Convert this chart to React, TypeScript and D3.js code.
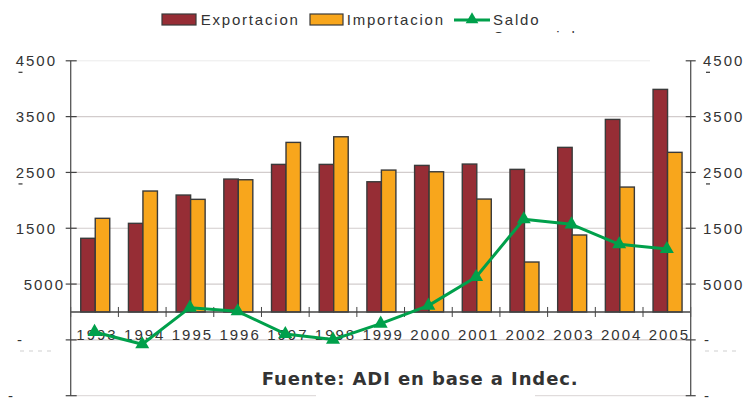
import React from "react";
import * as d3 from "d3";

const years = ["1993","1994","1995","1996","1997","1998","1999","2000","2001","2002","2003","2004","2005"];
const exportacion = [1320, 1588, 2095, 2381, 2644, 2644, 2333, 2626, 2650, 2555, 2949, 3450, 3988];
const importacion = [1678, 2167, 2018, 2369, 3038, 3139, 2542, 2512, 2023, 895, 1379, 2238, 2860];
const saldo = [-358, -579, 77, 12, -394, -495, -209, 114, 627, 1660, 1570, 1212, 1128];
const tickValues = [4500, 3500, 2500, 1500, 500, -500, -1500];
const tickLabels = ["4500", "3500", "2500", "1500", "5000", "-", "-"];
const seriesNames = ["Exportacion", "Importacion", "Saldo"];
const sourceNote = "Fuente: ADI en base a Indec.";

const W = 748, H = 403;
const X0 = 70.7, X1 = 690.7;
const COL_EXP = "#962d35";
const COL_IMP = "#f8a61c";
const COL_SAL = "#00a04b";
const TXT = "#333333";
const FONT = "'Liberation Sans', Arial, sans-serif";

export default function App() {
  const x = d3.scaleBand<string>().domain(years).range([X0, X1]).paddingInner(0).paddingOuter(0);
  const y = d3.scaleLinear().domain([-1500, 4500]).range([395.7, 60.8]);
  const sub = d3.scaleBand<string>().domain(["Exportacion", "Importacion"]).range([0, 29]);
  const bw = x.bandwidth();
  const cx = (yr: string) => (x(yr) as number) + bw / 2;
  const y0 = y(0);

  const line = d3.line<number>().x((_, i) => cx(years[i])).y(d => y(d));
  const tri = d3.symbol().type(d3.symbolTriangle).size(85)() as string;
  const triSmall = d3.symbol().type(d3.symbolTriangle).size(70)() as string;

  const barsData = [
    { name: "Exportacion", values: exportacion, fill: COL_EXP },
    { name: "Importacion", values: importacion, fill: COL_IMP },
  ];

  const boundaries = years.map(yr => x(yr) as number).concat([X1]);

  return (
    <svg width={W} height={H} style={{ position: "absolute", left: 0, top: 0, background: "#fff" }}
      fontFamily={FONT}>
      <defs>
        <clipPath id="legclip"><rect x={480} y={0} width={200} height={33} /></clipPath>
      </defs>

      {/* gridlines */}
      {tickValues.map(v => {
        if (v === 4500) return <line key={v} x1={X0} x2={650} y1={y(v)} y2={y(v)} stroke="#ececec" strokeWidth={1} />;
        if (v === -1500) return (
          <g key={v}>
            <line x1={X0} x2={316} y1={y(v)} y2={y(v)} stroke="#d9d4d4" strokeWidth={1} />
            <line x1={535} x2={X1} y1={y(v)} y2={y(v)} stroke="#d9d4d4" strokeWidth={1} />
          </g>
        );
        return <line key={v} x1={X0} x2={X1} y1={y(v)} y2={y(v)} stroke="#d2cccc" strokeWidth={1.2} />;
      })}

      {/* bars */}
      {barsData.map(s => (
        <g key={s.name}>
          {s.values.map((v, i) => {
            const bx = cx(years[i]) - 14.5 + 0.7 + (sub(s.name) as number);
            return <rect key={i} x={bx} y={y(v)} width={sub.bandwidth()} height={y0 - y(v)}
              fill={s.fill} stroke="#3a3a3a" strokeWidth={1.4} />;
          })}
        </g>
      ))}

      {/* x axis */}
      <line x1={X0} x2={X1} y1={y0} y2={y0} stroke="#444" strokeWidth={1.3} />
      {boundaries.map((bx, i) => (
        <line key={i} x1={bx} x2={bx} y1={y0 - 5} y2={y0 + 5} stroke="#444" strokeWidth={1} />
      ))}

      {/* left / right axes */}
      <line x1={X0} x2={X0} y1={y(4500)} y2={y(-1500)} stroke="#555" strokeWidth={1.3} />
      <line x1={X1} x2={X1} y1={y(4500)} y2={y(-1500)} stroke="#555" strokeWidth={1.3} />
      {tickValues.map(v => (
        <g key={v}>
          <line x1={X0 - 5} x2={X0 + 6} y1={y(v)} y2={y(v)} stroke="#444" strokeWidth={1.2} />
          <line x1={X1 - 5} x2={X1 + 5} y1={y(v)} y2={y(v)} stroke="#444" strokeWidth={1.2} />
        </g>
      ))}

      {/* tick labels */}
      {tickValues.map((v, i) => {
        const lab = tickLabels[i];
        const isDash = lab === "-";
        const lx = isDash ? (v === -1500 ? 15 : 24) : (lab === "5000" ? 65 : 57);
        return (
          <g key={v} fontSize={15} fill={TXT} letterSpacing={2}>
            <text x={lx} y={y(v) + 5.5} textAnchor="end">{lab}</text>
            <text x={isDash ? 704 : 703} y={y(v) + 5.5} textAnchor="start">{lab}</text>
          </g>
        );
      })}
      {/* small artefact dashes under upper labels */}
      {[4500, 2500].map(v => (
        <g key={v} stroke={TXT} strokeWidth={1.2}>
          <line x1={18.5} x2={22.5} y1={y(v) + 11.5} y2={y(v) + 11.5} />
          <line x1={706} x2={710} y1={y(v) + 11.5} y2={y(v) + 11.5} />
        </g>
      ))}
      <line x1={20} x2={56} y1={351} y2={351} stroke="#cfcfcf" strokeWidth={1} strokeDasharray="4,5" />
      <line x1={705} x2={741} y1={351} y2={351} stroke="#cfcfcf" strokeWidth={1} strokeDasharray="4,5" />

      {/* year labels */}
      {years.map(yr => (
        <text key={yr} x={cx(yr) + 2.5} y={340} textAnchor="middle" fontSize={15} fill={TXT} letterSpacing={2}>{yr}</text>
      ))}

      {/* saldo line */}
      <path d={line(saldo) as string} fill="none" stroke={COL_SAL} strokeWidth={3} strokeLinejoin="round" />
      {saldo.map((v, i) => (
        <path key={i} d={tri} transform={`translate(${cx(years[i])},${y(v)})`} fill={COL_SAL} />
      ))}

      {/* source */}
      <text x={261.7} y={385} fontFamily="'DejaVu Sans', Verdana, sans-serif" fontWeight="bold" fontSize={18}
        fill="#333333" textLength={316} lengthAdjust="spacing">{sourceNote}</text>

      {/* legend */}
      <g fontSize={15} fill={TXT} letterSpacing={1.8}>
        <rect x={162} y={14} width={34} height={11} fill={COL_EXP} stroke="#3a3a3a" strokeWidth={1.2} />
        <text x={200.7} y={25}>{seriesNames[0]}</text>
        <rect x={310} y={14} width={33} height={11} fill={COL_IMP} stroke="#3a3a3a" strokeWidth={1.2} />
        <text x={346.7} y={25}>{seriesNames[1]}</text>
        <line x1={454} x2={490} y1={20} y2={20} stroke={COL_SAL} strokeWidth={3} />
        <path d={triSmall} transform="translate(472,19.5)" fill={COL_SAL} />
        <text x={493} y={25}>{seriesNames[2]}</text>
        <text x={493} y={42} clipPath="url(#legclip)">Comercial</text>
      </g>
    </svg>
  );
}
